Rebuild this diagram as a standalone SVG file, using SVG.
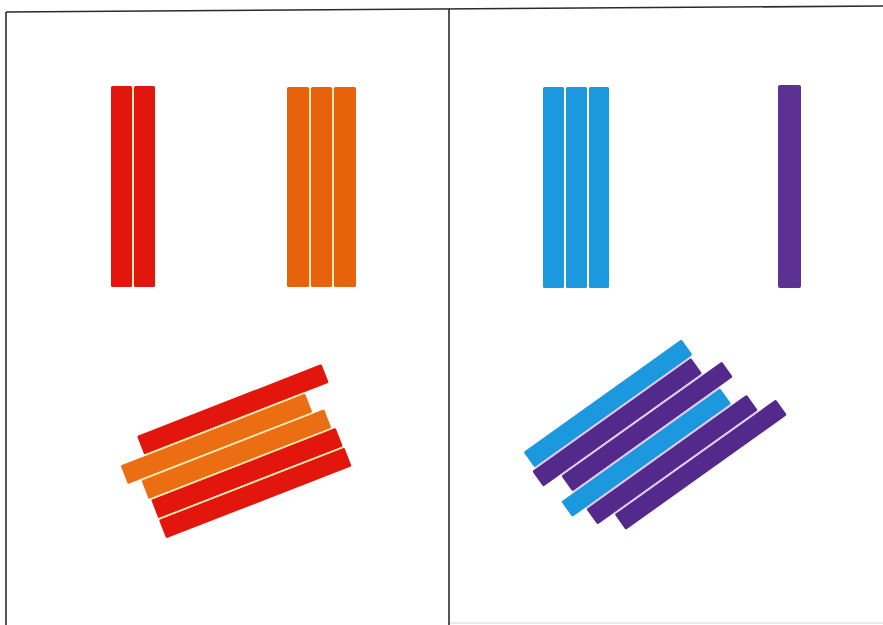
<svg xmlns="http://www.w3.org/2000/svg" width="883" height="625" viewBox="0 0 883 625">
  <style>
    .frame { stroke: #2b2b2b; stroke-width: 1.6; fill: none; }
    .faint { stroke: #d4d4d4; stroke-width: 1; fill: none; }
    .red { fill: #e3160e; }
    .orange { fill: #e8620c; }
    .orange2 { fill: #ec6e12; }
    .blue { fill: #1b98de; }
    .purple { fill: #5d3194; }
    .purple2 { fill: #53298c; }
    .gapY { stroke: #fbe7a2; stroke-width: 1.6; fill: none; }
    .gapP { stroke: #e2c4ec; stroke-width: 1.6; fill: none; }
  </style>
  <rect x="0" y="0" width="883" height="625" fill="#ffffff"/>

  <g id="frame">
    <line class="frame" x1="6" y1="12" x2="883" y2="6"/>
    <line class="frame" x1="6" y1="12" x2="6" y2="625"/>
    <line class="frame" x1="449" y1="9" x2="449" y2="625"/>
    <line class="faint" x1="450" y1="623" x2="883" y2="623"/>
  </g>

  <g id="red-pair">
    <rect class="red" x="111" y="86" width="21" height="201" rx="1.5"/>
    <rect class="red" x="134" y="86" width="21" height="201" rx="1.5"/>
    <line class="gapY" x1="133" y1="87" x2="133" y2="286"/>
  </g>

  <g id="orange-triple">
    <rect class="orange" x="287" y="87" width="22" height="200" rx="1.5"/>
    <rect class="orange" x="311" y="87" width="21" height="200" rx="1.5"/>
    <rect class="orange" x="334" y="87" width="22" height="200" rx="1.5"/>
    <line class="gapY" x1="310" y1="88" x2="310" y2="286"/>
    <line class="gapY" x1="333" y1="88" x2="333" y2="286"/>
  </g>

  <g id="blue-triple">
    <rect class="blue" x="543" y="87" width="21" height="201" rx="1.5"/>
    <rect class="blue" x="566" y="87" width="21" height="201" rx="1.5"/>
    <rect class="blue" x="589" y="87" width="20" height="201" rx="1.5"/>
  </g>

  <g id="purple-single">
    <rect class="purple" x="778" y="85" width="23" height="203" rx="2"/>
  </g>

  <g id="red-orange-stack" transform="translate(137,436) rotate(-21.3)">
    <rect class="red" x="0" y="0" width="198" height="20" rx="1.5"/>
    <rect class="orange2" x="-26" y="21.5" width="198" height="20" rx="1.5"/>
    <rect class="orange2" x="-12" y="43" width="196" height="20" rx="1.5"/>
    <rect class="red" x="-10" y="64.5" width="198" height="20" rx="1.5"/>
    <rect class="red" x="-10" y="86" width="199" height="20" rx="1.5"/>
    <line class="gapY" x1="0" y1="20.75" x2="172" y2="20.75"/>
    <line class="gapY" x1="-12" y1="42.25" x2="172" y2="42.25"/>
    <line class="gapY" x1="-10" y1="63.75" x2="184" y2="63.75"/>
    <line class="gapY" x1="-10" y1="85.25" x2="188" y2="85.25"/>
  </g>

  <g id="blue-purple-stack" transform="translate(523.5,452) rotate(-35.5)">
    <rect class="blue" x="0" y="0" width="194" height="19" rx="1.5"/>
    <rect class="purple2" x="-4" y="20.75" width="195" height="19" rx="1.5"/>
    <rect class="purple2" x="17" y="41.5" width="197" height="19" rx="1.5"/>
    <rect class="blue" x="2" y="62.25" width="195" height="19" rx="1.5"/>
    <rect class="purple2" x="18" y="83" width="197" height="19" rx="1.5"/>
    <rect class="purple2" x="38" y="103.75" width="198" height="19" rx="1.5"/>
    <line class="gapP" x1="0" y1="19.9" x2="191" y2="19.9"/>
    <line class="gapP" x1="17" y1="40.6" x2="191" y2="40.6"/>
    <line class="gapP" x1="17" y1="61.4" x2="197" y2="61.4"/>
    <line class="gapP" x1="18" y1="82.1" x2="197" y2="82.1"/>
    <line class="gapP" x1="38" y1="102.9" x2="215" y2="102.9"/>
  </g>
</svg>
